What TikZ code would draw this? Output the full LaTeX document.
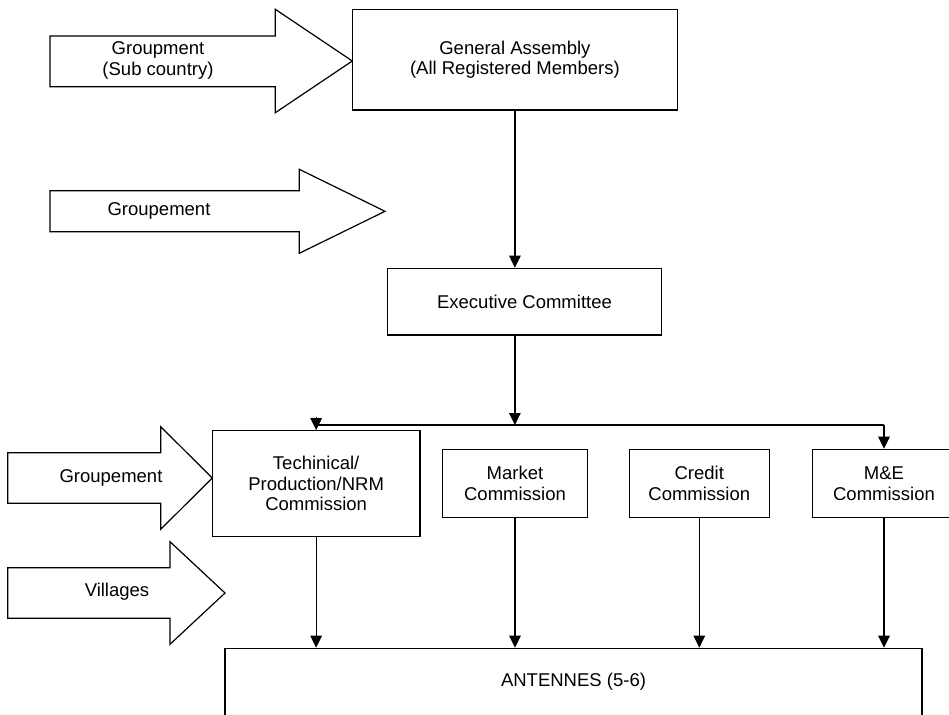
\documentclass[tikz,border=0pt]{standalone}
\usepackage{fontspec}
\setmainfont{Liberation Sans}
\usetikzlibrary{arrows.meta}

% block arrow: #1 tail x, #2/#3 shaft top/bottom, #4 head base x,
% #5/#6 head top/bottom, #7 tip x
\newcommand\blkarrow[7]{%
  \draw[shape line] (#1,#2) -- (#4,#2) -- (#4,#5) -- (#7,{(#5+#6)/2})
    -- (#4,#6) -- (#4,#3) -- (#1,#3) -- cycle;}

\begin{document}
\begin{tikzpicture}[x=1pt,y=-1pt,
  every node/.style={font=\fontsize{18.5}{20.6}\selectfont, align=center},
  shape line/.style={draw=black, line width=1.2pt, line join=miter, fill=white},
  orgbox/.style={draw=black, line width=1.2pt, rectangle, inner sep=0pt,
    fill=white},
  conn/.style={draw=black, line width=1.2pt,
    -{Triangle[length=12pt,width=11.5pt]}},
  plain/.style={draw=black, line width=1.2pt}]

\useasboundingbox (0,0) rectangle (949,714);

% input block arrows on the left
\blkarrow{50}{36}{86.7}{275.3}{9.3}{112.7}{352.3}
\node (lblA) at (158,60.5) {Groupment\\(Sub country)};
\blkarrow{50}{190.7}{231.7}{299.3}{169.3}{253.3}{385}
\node (lblB) at (159,211) {Groupement};
\blkarrow{7.7}{452.7}{503.3}{160.7}{426.7}{529.3}{212.3}
\node (lblC) at (111,478) {Groupement};
\blkarrow{7.7}{567.7}{618.3}{170}{541.7}{644.3}{225}
\node (lblD) at (117,591.5) {Villages};

% organisation boxes
\node[orgbox, minimum width=324.8pt, minimum height=100.7pt] (ga) at (514.9,59.65)
  {General Assembly\\(All Registered Members)};
\node[orgbox, minimum width=274.4pt, minimum height=66.7pt] (exec) at (524.5,301.65)
  {Executive Committee};
\node[orgbox, minimum width=207.7pt, minimum height=106pt] (tech) at (316.15,483.7)
  {Techinical/\\Production/NRM\\Commission};
\node[orgbox, minimum width=145.4pt, minimum height=68.4pt] (mkt) at (515,483.5)
  {Market\\Commission};
\node[orgbox, minimum width=140pt, minimum height=68.4pt] (cred) at (699.3,483.5)
  {Credit\\Commission};
\node[orgbox, minimum width=142.6pt, minimum height=68.4pt] (me) at (884,483.5)
  {M\&E\\Commission};
\node[orgbox, minimum width=697pt, minimum height=131.7pt] (ant) at (573.5,714.15) {};
\node (antlbl) at (573.5,681.3) {ANTENNES (5-6)};

% connectors
\coordinate (jn) at (514.9,425);
\draw[conn] (ga.south) -- (ga.south |- exec.north);
\draw[conn] (ga.south |- exec.south) -- (jn);
\draw[plain] (jn -| tech.north) -- (jn -| me.north);
\draw[conn] ([yshift=13pt]tech.north) -- (tech.north);
\draw[conn] (jn -| me.north) -- (me.north);
\draw[conn] (tech.south) -- (tech.south |- ant.north);
\draw[conn] (mkt.south) -- (mkt.south |- ant.north);
\draw[conn] (cred.south) -- (cred.south |- ant.north);
\draw[conn] (me.south) -- (me.south |- ant.north);
\end{tikzpicture}
\end{document}
